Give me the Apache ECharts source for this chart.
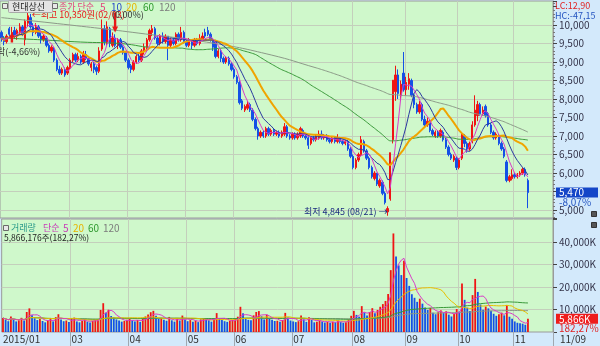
<!DOCTYPE html>
<html><head><meta charset="utf-8">
<script src="https://cdn.jsdelivr.net/npm/echarts@6/dist/echarts.min.js"></script>
<style>html,body{margin:0;padding:0;background:#d3e9fb;}#c{width:600px;height:346px;}</style>
</head><body><div id="c"></div>
<script>
// ---------- DATA ----------
const monthDays = [
  ['01',[20,21,22,23,26,27,28,29,30]],
  ['02',[2,3,4,5,6,9,10,11,12,13,16,17,23,24,25,26,27]],
  ['03',[2,3,4,5,6,9,10,11,12,13,16,17,18,19,20,23,24,25,26,27,30,31]],
  ['04',[1,2,3,6,7,8,9,10,13,14,15,16,17,20,21,22,23,24,27,28,29,30]],
  ['05',[4,6,7,8,11,12,13,14,15,18,19,20,21,22,26,27,28,29]],
  ['06',[1,2,3,4,5,8,9,10,11,12,15,16,17,18,19,22,23,24,25,26,29,30]],
  ['07',[1,2,3,6,7,8,9,10,13,14,15,16,17,20,21,22,23,24,27,28,29,30,31]],
  ['08',[3,4,5,6,7,10,11,12,13,17,18,19,20,21,24,25,26,27,28,31]],
  ['09',[1,2,3,4,7,8,9,10,11,14,15,16,17,18,21,22,23,24,25,30]],
  ['10',[1,2,5,6,7,8,12,13,14,15,16,19,20,21,22,23,26,27,28,29,30]],
  ['11',[2,3,4,5,6,9]]
];
// [open, close, low, high]
const candles = [
[9800,9650,9550,9850],[9650,9550,9450,9700],[9550,9700,9500,9750],[9900,9750,9700,9950],[9750,9800,9600,9950],
[9850,9700,9650,9950],[9700,9850,9600,9900],[9800,9950,9750,10050],[9950,9750,9700,10000],
[9600,10100,9450,10150],[10050,10250,9950,10350],[10200,9950,9900,10300],[9950,9800,9700,10050],[9800,9950,9750,10050],
[9950,9700,9650,10000],[9700,9600,9500,9800],[9600,9700,9550,9750],[9650,9450,9400,9700],[9450,9300,9250,9500],
[9300,9400,9250,9450],[9350,9050,9000,9400],[9050,8800,8750,9100],[8800,8700,8650,8900],[8700,8800,8650,8850],
[8800,8650,8600,8850],[8700,8850,8650,8900],
[8850,9050,8800,9100],[9050,9200,9000,9250],[9200,9050,9000,9250],[9050,9150,9000,9250],[9150,9000,8950,9200],
[9000,9200,8950,9300],[9200,9100,9050,9300],[9100,8950,8900,9150],[8850,8950,8750,9000],[8950,8800,8700,9000],
[8850,8750,8650,8900],[8750,9300,8700,9400],[9350,9900,9300,10150],[9900,9550,9450,10000],[9500,9950,9450,10100],
[9900,9500,9400,9950],[9450,9650,9400,9800],[9650,9450,9400,9750],[9450,9600,9350,9650],[9600,9400,9350,9650],
[9400,9250,9200,9450],[9250,9050,9000,9300],
[9050,8850,8800,9100],[8900,8800,8700,8950],[8800,9000,8750,9050],[9000,9150,8950,9200],[9150,9050,9000,9250],
[9050,9300,9000,9350],[9300,9400,9200,9500],[9400,9600,9350,9650],[9600,9850,9550,9900],[9800,9900,9700,10000],
[9900,9650,9600,9950],[9650,9500,9450,9700],[9500,9700,9450,9750],[9700,9550,9500,9800],[9550,9700,9500,9750],
[9700,9450,9050,9700],[9450,9600,9400,9650],[9600,9500,9450,9650],[9500,9750,9450,9800],[9750,9600,9550,9800],
[9600,9800,9550,9950],[9800,9550,9500,9850],
[9550,9450,9400,9600],[9450,9550,9400,9650],[9550,9450,9350,9600],[9450,9600,9400,9650],[9600,9500,9450,9650],
[9500,9650,9450,9750],[9600,9700,9550,9800],[9800,9700,9650,9900],[9850,9750,9700,9950],[9750,9600,9550,9800],
[9600,9400,9300,9650],[9550,9150,9100,9600],[9150,9300,9100,9350],[9300,9100,9000,9350],[9100,9000,8950,9150],
[9000,9100,8950,9150],[9100,8950,8900,9150],[8950,8800,8750,9000],
[8800,8600,8550,8850],[8600,8450,8400,8650],[8450,7900,7850,8500],[7950,7750,7700,8000],[7700,7800,7650,7850],
[7750,7850,7700,7950],[7850,7700,7650,7900],[7700,7450,7400,7750],[7450,7200,7150,7500],[7200,7000,6900,7250],
[7000,7100,6950,7150],[7100,7000,6950,7150],[7000,7200,6950,7250],[7200,7050,7000,7250],[7050,7150,7000,7200],
[7150,7050,7000,7200],[7050,7100,7000,7150],[7100,7000,6950,7150],[7000,7100,6950,7150],[7050,7250,7000,7350],
[7250,7000,6950,7300],[7000,6950,6900,7050],
[6950,7050,6900,7100],[7050,6950,6900,7100],[6950,7050,6900,7100],[7000,7200,6950,7250],[7150,7000,6950,7200],
[7000,6950,6900,7050],[6950,6750,6650,7000],[6800,6950,6750,7000],[6950,6900,6850,7000],[6900,7000,6850,7050],
[6950,7050,6900,7150],[7050,6950,6900,7150],[6950,7000,6900,7050],[7000,6900,6850,7050],[6900,6850,6800,6950],
[6850,6950,6800,7000],[6950,6850,6800,7000],[6850,6950,6800,7050],[6950,6850,6800,6950],[6850,6800,6750,6900],
[6800,6850,6750,6900],[6850,6650,6600,6900],[6650,6450,6400,6700],
[6450,6150,6100,6500],[6150,6350,6100,6400],[6350,6500,6300,6550],[6500,6900,6450,7000],[6850,6600,6550,6900],
[6600,6400,6350,6650],[6400,6150,6100,6450],[6150,5900,5850,6200],[5850,6000,5800,6050],[6000,5700,5650,6000],
[5650,5800,5600,5850],[5750,5450,5400,5800],[5450,5200,5150,5500],[4950,5040,4845,5100],[5300,6550,5250,6550],
[6900,8510,6800,8510],[8200,8650,7950,8900],[8650,8150,8000,8800],[8100,8400,7950,8500],[8700,8250,8200,9270],
[8250,8450,8100,8600],[8400,8550,8250,8700],[8500,8100,8050,8550],[8100,7850,7750,8150],[7850,7650,7600,7900],
[7650,7850,7600,7950],[7850,7450,7400,7900],[7450,7300,7250,7550],[7300,7400,7250,7500],[7400,7150,7100,7450],
[7150,7050,7000,7200],[7000,7100,6950,7150],[7100,7000,6950,7150],[7000,7150,6950,7200],[7100,6900,6850,7150],
[6900,6700,6650,6950],[6700,6500,6450,6750],[6500,6400,6350,6550],[6350,6450,6300,6500],[6400,6150,6080,6450],
[6150,6350,6100,6400],[6400,7050,6350,7100],[7000,6800,6700,7050],[6800,6650,6550,6850],[6650,6800,6600,6850],
[6850,7300,6800,7400],[7300,7700,7250,8100],[7550,7850,7400,7950],[7850,7600,7550,7900],[7600,7700,7550,7800],
[7800,7550,7500,7850],[7600,7300,7250,7650],[7300,7100,7050,7350],[7100,6950,6900,7150],[6950,7050,6900,7100],
[7000,6800,6750,7050],[6800,6650,6600,6850],[6650,6450,6400,6700],[6300,5800,5750,6350],[5800,5900,5750,5950],
[5850,5950,5800,6100],
[5950,5900,5850,6000],[5900,5950,5850,6000],[5950,6000,5900,6050],[6000,6100,5950,6150],[6100,5950,5900,6150],
[5800,5470,5050,5850]
];
// volume in thousand shares
const volumes = [
6200,5400,4800,6900,5500,4700,5200,6300,5100,
8900,10500,7400,6100,5300,5800,4900,4300,5200,6000,4700,6600,7900,5600,4800,5100,4400,
5900,6400,4700,4300,5000,5700,4600,4200,4900,5300,5800,9800,12800,8600,9900,7100,6500,5600,5100,4600,4900,5400,
5800,5200,4700,5300,4500,6100,6900,7800,8800,9400,7200,5900,6300,5400,5000,6700,5200,4600,5800,5100,7300,5600,
4800,5300,4500,5100,4400,5600,6200,5700,5200,4600,6100,8400,6000,5300,4800,4500,4900,5400,
6100,6800,11200,8300,6200,5400,5200,7400,8900,9300,7000,5600,7700,6100,5400,4900,5000,4600,5300,8500,6400,5100,
4700,4400,4800,7300,5600,4500,6500,5400,4300,4600,5100,4700,4200,4500,4100,4600,4300,5200,4400,4100,4300,5600,7200,
9400,7600,6800,11500,8700,7300,8900,10600,8300,9800,11200,12400,13800,16900,27500,43800,33500,29600,25300,31700,
24000,20500,16800,15200,13400,14800,12600,10900,9800,10700,8600,7900,8800,9600,8400,9200,7700,6900,8100,10200,
9100,21500,14300,10800,9300,16400,23600,17800,12200,9900,11300,10500,9400,8100,7200,7900,8600,7400,11900,6800,5900,
4700,4100,3900,3700,3218,5866
];
const ma60Early = [[0,9650],[15,9600],[30,9540],[45,9500]];
const ma120Early = [[0,10200],[26,10000],[52,9780],[80,9510],[102,9190]];
const priceTicks = [5000,5500,6000,6500,7000,7500,8000,8500,9000,9500,10000];
const priceLabels = [5000,6000,6500,7000,7500,8000,8500,9000,9500,10000];
const volTicks = [10000,20000,30000,40000];
const highPoint = {index:10, value:10350, text:'←최고 10,350원(02/03)'};
const lowPoint = {index:146, value:4845, text:'최저 4,845 (08/21) →'};
const texts = {
  name:'현대상선', lc:'LC:12,90', hc:'HC:-47,15', curPrice:'5,470', curPct:'-8,07%',
  curVol:'5,866K', volPct:'182,27%', volInfo:'5,866,176주(182,27%)', lastDate:'11/09',
  pct0:'(0,00%)', leftCut:'락(-4,66%)'
};
const padSlots = 9;

// ---------- BUILD ----------
const FONT = "'Noto Sans CJK KR','DejaVu Sans',sans-serif";
const dates = [];
monthDays.forEach(([m, days]) => days.forEach(d => dates.push('2015/' + m + '/' + String(d).padStart(2,'0'))));
const categories = dates.concat(Array.from({length: padSlots}, (_, k) => 'pad' + k));
const monthStarts = new Set();
let acc = 0;
monthDays.forEach(([m, days]) => { if (m !== '01' && m !== '02') monthStarts.add(acc); acc += days.length; });
const closes = candles.map(c => c[1]);
function ma(arr, n, from) {
  return arr.map((_, i) => {
    if (i < from) return null;
    const s = arr.slice(Math.max(0, i - n + 1), i + 1);
    return Math.round(s.reduce((a, b) => a + b, 0) / s.length);
  });
}
function withEarly(arr, early) {
  const out = arr.slice();
  early.forEach(([i, v]) => { out[i] = v; });
  return out;
}
const ma5 = ma(closes, 5, 0), ma10 = ma(closes, 10, 0), ma20 = ma(closes, 20, 0);
const ma60 = withEarly(ma(closes, 60, 59), ma60Early);
const ma120 = withEarly(ma(closes, 120, 119), ma120Early);
const vma5 = ma(volumes, 5, 0), vma20 = ma(volumes, 20, 0), vma60 = ma(volumes, 60, 0), vma120 = ma(volumes, 120, 0);
const RED = '#f01414', BLUE = '#1450e6', GRIDC = '#c4cfbc';
const volData = volumes.map((v, i) => ({value: v, itemStyle: {color: (i === 0 || v >= volumes[i-1]) ? RED : BLUE}}));
const fmt = v => v.toLocaleString('en-US');

function lineS(name, data, color, width, xi, yi, smooth) {
  return {type:'line', name, data, xAxisIndex:xi, yAxisIndex:yi, symbol:'none', connectNulls:true,
    smooth: smooth || false, lineStyle:{color, width}, z:4, silent:true};
}

const chart = echarts.init(document.getElementById('c'), null, {width:600, height:346});
const option = {
  animation:false,
  backgroundColor:'#d3e9fb',
  textStyle:{fontFamily:FONT},
  grid:[
    {left:0, top:1, width:553, height:217, show:true, backgroundColor:'#cff8cb', borderColor:'#9a9a9a', borderWidth:1},
    {left:0, top:219, width:553, height:113, show:true, backgroundColor:'#cff8cb', borderColor:'#9a9a9a', borderWidth:1}
  ],
  xAxis:[
    {type:'category', gridIndex:0, data:categories, boundaryGap:true,
     axisLine:{show:false}, axisTick:{show:false}, axisLabel:{show:false},
     splitLine:{show:true, interval:(i)=>monthStarts.has(i), lineStyle:{color:GRIDC, width:1}}},
    {type:'category', gridIndex:1, data:categories, boundaryGap:true, axisLine:{show:false},
     axisTick:{show:true, interval:(i)=>monthStarts.has(i), length:14, lineStyle:{color:'#a0a8b0'}},
     axisLabel:{show:true, interval:(i)=> i === 0 || monthStarts.has(i),
       formatter:(v, i)=> i === 0 ? '2015/01' : v.slice(5,7), align:'left', margin:2, fontSize:10, color:'#333', fontFamily:FONT},
     splitLine:{show:true, interval:(i)=>monthStarts.has(i), lineStyle:{color:GRIDC, width:1}}}
  ],
  yAxis:[
    {type:'value', gridIndex:0, position:'right', min:4784, max:10649, splitNumber:12,
     axisLine:{show:true, lineStyle:{color:'#9a9a9a'}},
     axisTick:{show:true, length:4, lineStyle:{color:'#444'}},
     minorTick:{show:true, splitNumber:5, length:2, lineStyle:{color:'#777'}},
     splitLine:{show:false},
     axisLabel:{margin:6, fontSize:10, color:'#34344a', fontFamily:FONT,
       formatter:v => priceLabels.includes(v) ? fmt(v) : ''}},
    {type:'value', gridIndex:1, position:'right', min:0, max:50222, splitNumber:5,
     axisLine:{show:true, lineStyle:{color:'#9a9a9a'}},
     axisTick:{show:true, length:4, lineStyle:{color:'#444'}},
     splitLine:{show:false},
     axisLabel:{margin:6, fontSize:10, color:'#34344a', fontFamily:FONT,
       formatter:v => volTicks.includes(v) ? fmt(v) + 'K' : ''}}
  ],
  series:[
    {type:'candlestick', name:'price', data:candles, xAxisIndex:0, yAxisIndex:0, barWidth:1.9, z:3, silent:true,
     itemStyle:{color:RED, color0:BLUE, borderColor:RED, borderColor0:BLUE, borderWidth:1},
     markLine:{silent:true, z:1, symbol:['none','none'], label:{show:false}, lineStyle:{color:GRIDC, width:1, type:'solid'},
       data: priceTicks.map(v => ({yAxis:v}))},
     markPoint:{silent:true, data:[
       {coord:[categories[highPoint.index], highPoint.value], symbol:'rect', symbolSize:0,
        label:{show:true, position:'right', distance:4, offset:[0,3], formatter:highPoint.text, color:'#e81818', fontSize:9, fontFamily:FONT}},
       {coord:[categories[lowPoint.index], lowPoint.value], symbol:'rect', symbolSize:0,
        label:{show:true, position:'left', distance:0, offset:[0,-4], formatter:lowPoint.text, color:'#1c2c80', fontSize:9, fontFamily:FONT}},
       {coord:[categories[4], 9660], symbol:'path://M5,0 L10,6 L7,6 L7,12 L3,12 L3,6 L0,6 Z', symbolSize:[6,10],
        itemStyle:{color:'#e81818'}, label:{show:false}},
       {coord:[categories[43], 10070], symbol:'path://M3,0 L7,0 L7,14 L10,14 L5,20 L0,14 L3,14 Z', symbolSize:[6,20],
        itemStyle:{color:'#e81818'}, label:{show:false}}
     ]}},
    lineS('ma120', ma120, '#8c9a88', 1, 0, 0, true),
    lineS('ma60', ma60, '#3a9a3a', 1, 0, 0, true),
    lineS('ma20', ma20, '#f0a400', 2, 0, 0),
    lineS('ma10', ma10, '#2a3aa0', 1, 0, 0),
    lineS('ma5', ma5, '#d83cc8', 1, 0, 0),
    {type:'bar', name:'vol', data:volData, xAxisIndex:1, yAxisIndex:1, barWidth:1.8, z:3, silent:true,
     markLine:{silent:true, z:1, symbol:['none','none'], label:{show:false}, lineStyle:{color:GRIDC, width:1, type:'solid'},
       data: volTicks.map(v => ({yAxis:v}))}},
    lineS('vma120', vma120, '#8c9a88', 1, 1, 1),
    lineS('vma60', vma60, '#3a9a3a', 1, 1, 1),
    lineS('vma20', vma20, '#e8c000', 1, 1, 1),
    lineS('vma5', vma5, '#d83cc8', 1, 1, 1)
  ]
};
chart.setOption(option);

const lastClose = closes[closes.length - 1];
const lastVol = volumes[volumes.length - 1];
const yCur = chart.convertToPixel({yAxisIndex:0}, lastClose);
const yVol = chart.convertToPixel({yAxisIndex:1}, lastVol);
function T(text, x, y, fill, size, extra) {
  return {type:'text', z:100, silent:true, style:Object.assign({text, x, y, fill, fontSize:size || 10, fontFamily:FONT, verticalAlign:'middle', align:'left'}, extra || {})};
}
function icon(x, y) {
  return {type:'rect', z:100, silent:true, shape:{x, y, width:5, height:5}, style:{fill:'#e8e8e8', stroke:'#6a6a6a', lineWidth:1}};
}
chart.setOption({graphic:[
  {type:'rect', z:99, silent:true, shape:{x:8.5, y:0.5, width:44, height:12, r:1}, style:{fill:'#e4e4e4', stroke:'#a8a8a8', lineWidth:1}},
  icon(2.5, 3.5),
  T(texts.name, 12, 7, '#222', 9),
  icon(52.5, 3.5),
  T('종가 단순', 59, 7, '#e2407e', 9),
  T('5', 100, 7, '#e2407e', 10),
  T('10', 111, 7, '#2848c8', 10),
  T('20', 126, 7, '#e8b400', 10),
  T('60', 143, 7, '#2e9a2e', 10),
  T('120', 159, 7, '#7c7c7c', 10),
  T(texts.pct0, 112, 15, '#333', 9),
  T(texts.leftCut, -3, 52, '#333', 9),
  T(texts.lc, 555, 6, '#e02424', 9),
  T(texts.hc, 555, 16, '#2454c0', 9),
  {type:'rect', z:100, silent:true, shape:{x:556, y:yCur - 5, width:42, height:10}, style:{fill:'#1446c8'}},
  T(texts.curPrice, 559, yCur, '#ffffff', 10),
  T(texts.curPct, 559, yCur + 10, '#2454c0', 10),
  {type:'rect', z:100, silent:true, shape:{x:556, y:yVol - 5, width:42, height:10}, style:{fill:'#ee1c1c'}},
  T(texts.curVol, 559, yVol, '#ffffff', 10),
  T(texts.volPct, 559, yVol + 9, '#e02424', 10),
  icon(3.5, 225.5),
  T('거래량', 11, 228, '#2a9a8a', 9),
  T('단순', 43, 228, '#c83cb8', 9),
  T('5', 63, 228, '#c83cb8', 10),
  T('20', 73, 228, '#e8b400', 10),
  T('60', 88, 228, '#2e9a2e', 10),
  T('120', 103, 228, '#7c7c7c', 10),
  T(texts.volInfo, 4, 238, '#222', 8.5),
  T(texts.lastDate, 560, 339, '#333', 10),
  {type:'line', z:100, silent:true, shape:{x1:553.5, y1:332, x2:553.5, y2:346}, style:{stroke:'#a0a8b0', lineWidth:1}},
  {type:'rect', z:100, silent:true, shape:{x:591.5, y:211.5, width:5, height:5}, style:{fill:'#555', stroke:'#333'}},
  {type:'rect', z:100, silent:true, shape:{x:591.5, y:222.5, width:5, height:5}, style:{fill:'#555', stroke:'#333'}}
]});
</script></body></html>
